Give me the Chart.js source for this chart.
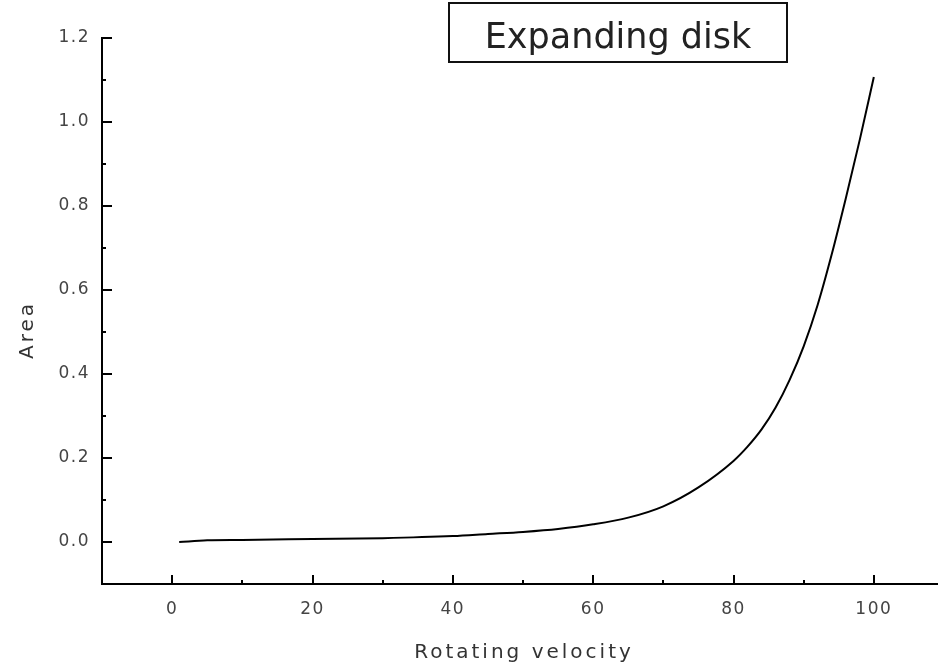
<!DOCTYPE html>
<html>
<head>
<meta charset="utf-8">
<script src="https://cdn.jsdelivr.net/npm/chart.js@4"></script>
<style>
  html, body { margin: 0; padding: 0; background: #fff; overflow: hidden; }
  #wrap { width: 938px; height: 670px; overflow: hidden; position: relative; }
  #box { width: 950px; height: 670px; position: absolute; left: 0; top: 0; }
</style>
</head>
<body>
<div id="wrap"><div id="box"><canvas id="c"></canvas></div></div>
<script>
// ---- data ----
const velocity = [1, 5, 10, 20, 30, 40, 45, 50, 55, 60, 65, 70, 75, 80, 82, 84, 86, 88, 90, 92, 94, 96, 98, 100];
const area     = [0.000, 0.004, 0.005, 0.007, 0.009, 0.014, 0.019, 0.024, 0.031, 0.042, 0.058, 0.085, 0.130, 0.193, 0.227, 0.268, 0.320, 0.386, 0.466, 0.565, 0.685, 0.818, 0.958, 1.107];
const xTicks = [0, 20, 40, 60, 80, 100];
const xMinorTicks = [10, 30, 50, 70, 90];
const yTicks = [0, 0.2, 0.4, 0.6, 0.8, 1.0, 1.2];
const yMinorTicks = [0.1, 0.3, 0.5, 0.7, 0.9, 1.1];
const chartTitle = 'Expanding disk';
const xTitle = 'Rotating velocity';
const yTitle = 'Area';

const decor = {
  id: 'decor',
  beforeDraw(chart) {
    try { chart.ctx.letterSpacing = '1.5px'; } catch (e) {}
  },
  afterDatasetsDraw(chart) {
    try { chart.ctx.letterSpacing = '0px'; } catch (e) {}
  },
  afterDraw(chart) {
    const ctx = chart.ctx;
    const xs = chart.scales.x, ys = chart.scales.y;
    const a = chart.chartArea;
    ctx.save();
    ctx.strokeStyle = '#000';
    ctx.lineWidth = 2;
    ctx.beginPath();
    xTicks.forEach(v => { const p = Math.round(xs.getPixelForValue(v)); ctx.moveTo(p, a.bottom); ctx.lineTo(p, a.bottom - 9); });
    xMinorTicks.forEach(v => { const p = Math.round(xs.getPixelForValue(v)); ctx.moveTo(p, a.bottom); ctx.lineTo(p, a.bottom - 4); });
    yTicks.forEach(v => { const p = Math.round(ys.getPixelForValue(v)); ctx.moveTo(a.left, p); ctx.lineTo(a.left + 10, p); });
    yMinorTicks.forEach(v => { const p = Math.round(ys.getPixelForValue(v)); ctx.moveTo(a.left, p); ctx.lineTo(a.left + 4, p); });
    ctx.stroke();

    // title box
    ctx.fillStyle = '#fff';
    ctx.fillRect(449, 3, 338, 59);
    ctx.lineWidth = 2;
    ctx.strokeStyle = '#111';
    ctx.strokeRect(449, 3, 338, 59);
    ctx.fillStyle = '#222';
    try { ctx.letterSpacing = '0px'; } catch (e) {}
    ctx.font = '35px "DejaVu Sans"';
    ctx.textAlign = 'center';
    ctx.textBaseline = 'alphabetic';
    ctx.fillText(chartTitle, 618, 48);

    // axis titles
    ctx.fillStyle = '#333';
    ctx.font = '20px "DejaVu Sans"';
    try { ctx.letterSpacing = '3px'; } catch (e) {}
    ctx.fillText(xTitle, 524, 658);
    ctx.translate(33, 330);
    ctx.rotate(-Math.PI / 2);
    ctx.fillText(yTitle, 0, 0);
    ctx.restore();
    try { ctx.letterSpacing = '0px'; } catch (e) {}
  }
};

new Chart(document.getElementById('c'), {
  type: 'line',
  data: {
    datasets: [{
      data: velocity.map((v, i) => ({ x: v, y: area[i] })),
      borderColor: '#000',
      borderWidth: 2,
      pointRadius: 0,
      fill: false,
      cubicInterpolationMode: 'monotone'
    }]
  },
  options: {
    responsive: true,
    maintainAspectRatio: false,
    animation: false,
    layout: { padding: { top: 38, right: 6, left: 0, bottom: 0 } },
    plugins: { legend: { display: false }, tooltip: { enabled: false } },
    scales: {
      x: {
        type: 'linear',
        min: -10, max: 110,
        afterBuildTicks: s => { s.ticks = xTicks.map(v => ({ value: v })); },
        afterFit: s => { s.height = 86; },
        grid: { display: false, drawTicks: false },
        border: { display: true, color: '#000', width: 2 },
        ticks: { padding: 15, color: '#444', font: { family: 'DejaVu Sans', size: 17 }, maxRotation: 0 }
      },
      y: {
        type: 'linear',
        min: -0.1, max: 1.2,
        afterBuildTicks: s => { s.ticks = yTicks.map(v => ({ value: v })); },
        afterFit: s => { s.width = 102; },
        grid: { display: false, drawTicks: false },
        border: { display: true, color: '#000', width: 2 },
        ticks: { padding: 12, color: '#444', font: { family: 'DejaVu Sans', size: 17 }, callback: v => Number(v).toFixed(1) }
      }
    }
  },
  plugins: [decor]
});
</script>
</body>
</html>
